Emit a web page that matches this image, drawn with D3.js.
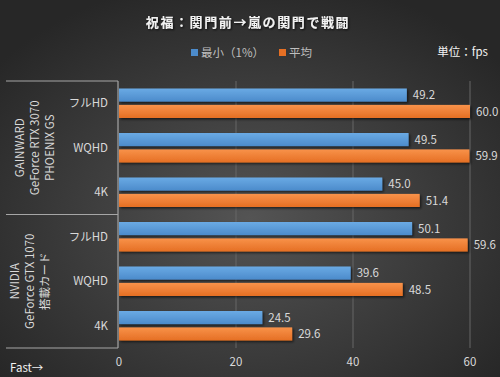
<!DOCTYPE html>
<html>
<head>
<meta charset="utf-8">
<script src="https://cdn.jsdelivr.net/npm/d3@7"></script>
<style>
  body { margin: 0; background: #333; }
  svg { display: block; font-family: "Noto Sans CJK JP", "Noto Sans", sans-serif; }
</style>
</head>
<body>
<div id="chart"></div>
<script>
// data
const groups = ["GAINWARD\nGeForce RTX 3070\nPHOENIX GS", "NVIDIA\nGeForce GTX 1070\n搭載カード"];
const resolutions = ["フルHD", "WQHD", "4K"];
const seriesNames = ["最小（1%）", "平均"];
const minValues = [49.2, 49.5, 45.0, 50.1, 39.6, 24.5];
const avgValues = [60.0, 59.9, 51.4, 59.6, 48.5, 29.6];
const xTicks = [0, 20, 40, 60];

const width = 500, height = 377;
const plot = { left: 119, right: 470, top: 81, bottom: 348 };

const rows = [];
groups.forEach((g, gi) => resolutions.forEach((r, ri) => {
    const i = gi * resolutions.length + ri;
    rows.push({ key: i, group: g, res: r, values: [minValues[i], avgValues[i]] });
}));

const svg = d3.select("#chart").append("svg")
    .attr("width", width).attr("height", height);

const defs = svg.append("defs");

// background radial gradient
const bg = defs.append("radialGradient").attr("id", "bg")
    .attr("cx", "50%").attr("cy", "58%").attr("r", "65%");
bg.append("stop").attr("offset", "0%").attr("stop-color", "#545454");
bg.append("stop").attr("offset", "100%").attr("stop-color", "#272727");

const barColors = [["#6aaae4", "#4c8bcb"], ["#f8924a", "#e56f24"]];
barColors.forEach((c, i) => {
    const lg = defs.append("linearGradient").attr("id", "bar" + i)
        .attr("x1", "0%").attr("y1", "0%").attr("x2", "0%").attr("y2", "100%");
    lg.append("stop").attr("offset", "0%").attr("stop-color", c[0]);
    lg.append("stop").attr("offset", "100%").attr("stop-color", c[1]);
});

const shadow = defs.append("filter").attr("id", "shadow")
    .attr("x", "-5%").attr("y", "-30%").attr("width", "110%").attr("height", "180%");
shadow.append("feDropShadow").attr("dx", 1.5).attr("dy", 1.5).attr("stdDeviation", 1)
    .attr("flood-color", "#000").attr("flood-opacity", 0.6);

const tshadow = defs.append("filter").attr("id", "tshadow");
tshadow.append("feDropShadow").attr("dx", 1).attr("dy", 1).attr("stdDeviation", 0.8)
    .attr("flood-color", "#000").attr("flood-opacity", 0.8);

svg.append("rect").attr("width", width).attr("height", height).attr("fill", "url(#bg)");

// scales
const x = d3.scaleLinear().domain([0, 60]).range([plot.left, plot.right]);
const y = d3.scaleBand().domain(rows.map(d => d.key)).range([plot.top, plot.bottom]);
const y1 = d3.scaleBand().domain([0, 1]).range([7.5, 37]).paddingInner(0.2);

// gridlines
svg.append("g").selectAll("line").data(xTicks.filter(t => t > 0)).join("line")
    .attr("x1", d => x(d)).attr("x2", d => x(d))
    .attr("y1", plot.top).attr("y2", plot.bottom)
    .attr("stroke", "#666").attr("stroke-width", 1);

// x tick labels
svg.append("g").selectAll("text").data(xTicks).join("text")
    .attr("x", d => x(d)).attr("y", 366)
    .attr("text-anchor", "middle")
    .attr("fill", "#d9d9d9").attr("font-size", 11.5)
    .text(d => d);

// bars
const rowG = svg.append("g").selectAll("g").data(rows).join("g")
    .attr("transform", d => `translate(0,${y(d.key)})`);

rowG.selectAll("rect").data(d => d.values).join("rect")
    .attr("x", x(0))
    .attr("y", (d, i) => y1(i))
    .attr("width", d => x(d) - x(0))
    .attr("height", y1.bandwidth())
    .attr("fill", (d, i) => `url(#bar${i})`)
    .attr("filter", "url(#shadow)");

rowG.selectAll("text.val").data(d => d.values).join("text")
    .attr("class", "val")
    .attr("x", d => x(d) + 6)
    .attr("y", (d, i) => y1(i) + y1.bandwidth() / 2)
    .attr("dy", "0.36em")
    .attr("fill", "#d9d9d9").attr("font-size", 11.5)
    .text(d => d.toFixed(1));

// resolution labels
rowG.append("text")
    .attr("x", 108).attr("y", y.bandwidth() / 2)
    .attr("dy", "0.36em")
    .attr("text-anchor", "end")
    .attr("fill", "#d9d9d9").attr("font-size", 11.5)
    .text(d => d.res);

// group frame lines
const gTop = groups.map((g, i) => y(i * 3));
const frame = svg.append("g").attr("stroke", "#a6a6a6").attr("stroke-width", 1.2);
[...gTop, plot.bottom].forEach(yy => {
    frame.append("line").attr("x1", 6).attr("x2", plot.left - 1)
        .attr("y1", yy).attr("y2", yy);
});
frame.append("line").attr("x1", plot.left - 1).attr("x2", plot.left - 1)
    .attr("y1", plot.top).attr("y2", plot.bottom);

// group labels (rotated)
groups.forEach((g, gi) => {
    const cy = gTop[gi] + y.bandwidth() * 1.5;
    const lines = g.split("\n");
    const t = svg.append("text")
        .attr("transform", `translate(${35 - (gi ? 5 : 0)},${cy}) rotate(-90)`)
        .attr("text-anchor", "middle")
        .attr("fill", "#d9d9d9").attr("font-size", 11.5);
    lines.forEach((l, li) => {
        t.append("tspan").attr("x", 0)
            .attr("y", (li - (lines.length - 1) / 2) * 15)
            .attr("dy", "0.36em")
            .text(l);
    });
});

// title
svg.append("text")
    .attr("x", 248).attr("y", 27)
    .attr("text-anchor", "middle")
    .attr("fill", "#f2f2f2").attr("font-size", 13).attr("font-weight", "bold")
    .attr("letter-spacing", 1.6)
    .attr("filter", "url(#tshadow)")
    .text("祝福：関門前→嵐の関門で戦闘");

// legend
const legendX = [191, 279];
const legend = svg.append("g").selectAll("g").data(seriesNames).join("g")
    .attr("transform", (d, i) => `translate(${legendX[i]},53)`);
legend.append("rect").attr("x", 0).attr("y", -4).attr("width", 7).attr("height", 7)
    .attr("fill", (d, i) => barColors[i][1]);
legend.append("text").attr("x", 10).attr("y", 0).attr("dy", "0.36em")
    .attr("fill", "#bfbfbf").attr("font-size", 11.5)
    .text(d => d);

// unit
svg.append("text")
    .attr("x", 488).attr("y", 52).attr("dy", "0.36em")
    .attr("text-anchor", "end")
    .attr("fill", "#f2f2f2").attr("font-size", 11.5)
    .text("単位：fps");

svg.append("text")
    .attr("x", 10).attr("y", 368).attr("dy", "0.36em")
    .attr("fill", "#f2f2f2").attr("font-size", 11.5)
    .text("Fast→");
</script>
</body>
</html>
